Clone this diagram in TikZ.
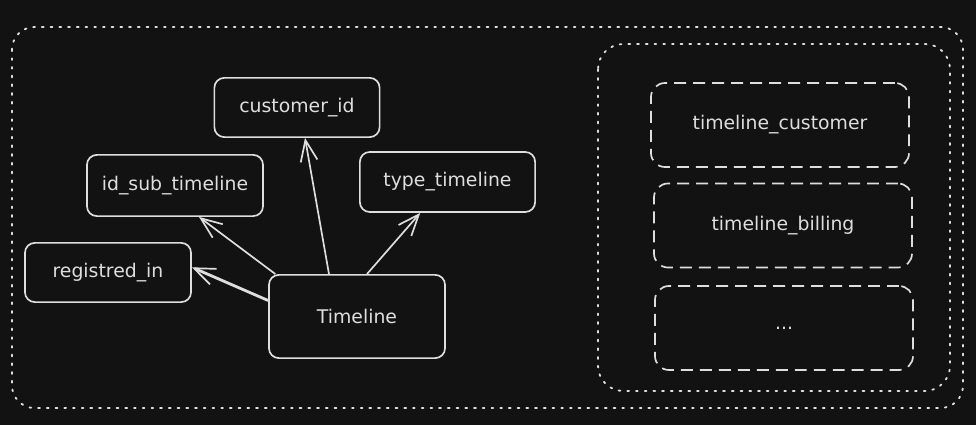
\documentclass[tikz,border=0pt]{standalone}
\usepackage{fontspec}
\setmainfont{DejaVu Sans}
\usepackage{tikz}
\usetikzlibrary{calc}
\usetikzlibrary{arrows.meta}
\definecolor{bg}{HTML}{121212}
\definecolor{ink}{HTML}{DEDEDE}
\tikzset{>={Straight Barb[length=15pt,width=12pt,line width=1.2pt]}}
\tikzstyle{field}=[draw=ink,line width=1.2pt,rounded corners=7pt,text=ink,
                   font=\fontsize{13.4}{16}\selectfont,inner sep=0pt]
\tikzstyle{table}=[field,rounded corners=10pt,dash pattern=on 8.5pt off 5pt,
                   minimum width=6.45cm,minimum height=2.1cm]
\tikzstyle{group}=[draw=ink,line width=1.3pt,dash pattern=on 1.3pt off 4.9pt,
                   line cap=round]
\tikzstyle{link}=[->,draw=ink,line width=1.2pt]

\begin{document}
\begin{tikzpicture}[x=0.025cm,y=-0.025cm]

            % CANVAS
            \fill[bg] (0,0) rectangle (976,425);
            \useasboundingbox (0,0) rectangle (976,425);

            % GROUPS
            \draw[group,rounded corners=16pt] (12,27) rectangle (963,408);
            \draw[group,rounded corners=18pt] (598,44) rectangle (950,391);

            % FIELDS
            \node[field,minimum width=4.13cm,minimum height=1.48cm] (cid) at (297,107.5) {customer\_id};
            \node[field,minimum width=4.4cm,minimum height=1.53cm] (sub) at (175,185.5) {id\_sub\_timeline};
            \node[field,minimum width=4.38cm,minimum height=1.5cm] (type) at (447.5,182) {type\_timeline};
            \node[field,minimum width=4.15cm,minimum height=1.48cm] (reg) at (108,272.5) {registred\_in};
            \node[field,minimum width=4.4cm,minimum height=2.08cm] (tl) at (357,316.5) {Timeline};

            % TABLES
            \node[table] (tcust) at (780,125) {timeline\_customer};
            \node[table] (tbill) at (783,225.5) {timeline\_billing};
            \node[table] (tmore) at (784,328) {...};

            % LINKS
            \draw[link] ([xshift=-0.7cm]tl.north) -- ([xshift=0.2cm]cid.south);
            \draw[link] ([xshift=0.18cm]tl.north west) -- ([xshift=0.6cm]sub.south);
            \draw[link] ([xshift=0.25cm]tl.north) -- ([xshift=-0.68cm]type.south);
            \draw[link,line width=2pt] ([yshift=0.4cm]tl.west) -- ([yshift=0.13cm]reg.east);

\end{tikzpicture}
\end{document}
